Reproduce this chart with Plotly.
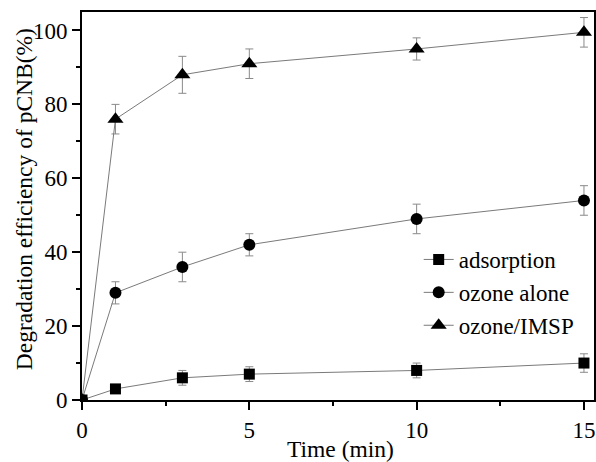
import plotly.graph_objects as go

# Reaction time (min)
time_min = [0, 1, 3, 5, 10, 15]

# Degradation efficiency of pCNB (%) and standard deviations
adsorption = [0, 3, 6, 7, 8, 10]
adsorption_err = [0, 1, 2, 2, 2, 2.5]

ozone_alone = [0, 29, 36, 42, 49, 54]
ozone_alone_err = [0, 3, 4, 3, 4, 4]

ozone_imsp = [0, 76, 88, 91, 95, 99.5]
ozone_imsp_err = [0, 4, 5, 4, 3, 4]

series_names = ["adsorption", "ozone alone", "ozone/IMSP"]
x_ticks = [0, 5, 10, 15]
y_ticks = [0, 20, 40, 60, 80, 100]

FONT = "Liberation Serif"
LINE_GREY = "#7a7a7a"
ERR_GREY = "#8a8a8a"

fig = go.Figure()

specs = [
    (series_names[0], adsorption, adsorption_err, "square", 11),
    (series_names[1], ozone_alone, ozone_alone_err, "circle", 12),
    (series_names[2], ozone_imsp, ozone_imsp_err, "triangle-up", 14),
]

for name, vals, errs, symbol, size in specs:
    fig.add_trace(go.Scatter(
        x=time_min, y=vals, name=name, mode="lines+markers",
        line=dict(color=LINE_GREY, width=1),
        marker=dict(symbol=symbol, size=size, color="black"),
        error_y=dict(type="data", array=errs, visible=True,
                     color=ERR_GREY, thickness=1, width=4),
    ))

W, H = 596, 462
L, R, T, B = 82, 0, 12, 62
pw, ph = W - L - R, H - T - B


def style_axis(ax, rng, vals, minor_step):
    ax.update(
        range=rng, tickvals=vals,
        showline=True, linecolor="black", linewidth=2, mirror=True,
        ticks="outside", ticklen=8, tickwidth=1.5, tickcolor="black",
        showgrid=False, zeroline=False,
        tickfont=dict(family=FONT, size=23, color="black"),
        minor=dict(dtick=minor_step, tick0=0, ticks="outside", ticklen=4,
                   tickwidth=1.5, tickcolor="black", showgrid=False),
    )


style_axis(fig.layout.xaxis, [0, 15.3], x_ticks, 2.5)
style_axis(fig.layout.yaxis, [0, 105], y_ticks, 10)

fig.add_annotation(
    text="Time (min)", xref="paper", yref="paper",
    x=(342 - L) / pw, y=-(449 - (H - B)) / ph,
    xanchor="center", yanchor="middle", showarrow=False,
    font=dict(family=FONT, size=23.5, color="black"),
)
fig.add_annotation(
    text="Degradation efficiency of pCNB(%)", xref="paper", yref="paper",
    x=(24 - L) / pw, y=((H - B) - 199) / ph, textangle=-90,
    xanchor="center", yanchor="middle", showarrow=False,
    font=dict(family=FONT, size=23.5, color="black"),
)

fig.update_layout(
    width=W, height=H,
    margin=dict(l=L, r=R, t=T, b=B, pad=0),
    paper_bgcolor="white", plot_bgcolor="white",
    font=dict(family=FONT, size=22, color="black"),
    showlegend=True,
    legend=dict(
        x=(420 - L) / pw, y=((H - B) - 238) / ph,
        xanchor="left", yanchor="top",
        bgcolor="rgba(0,0,0,0)", borderwidth=0,
        font=dict(family=FONT, size=23, color="black"),
        tracegroupgap=0, itemsizing="trace",
    ),
)

fig.write_html("out.html")
